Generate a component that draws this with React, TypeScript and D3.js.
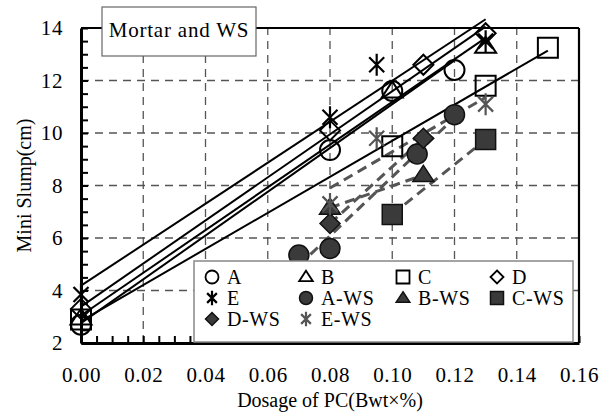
import React, { useEffect, useRef } from 'react';
import * as d3 from 'd3';

// series data (x = dosage of PC, y = mini slump cm)
const A_x = [0, 0.08, 0.10, 0.12];
const A_y = [2.7, 9.35, 11.6, 12.4];
const B_x = [0, 0.10, 0.13];
const B_y = [2.95, 11.6, 13.3];
const C_x = [0, 0.10, 0.13, 0.15];
const C_y = [2.9, 9.5, 11.8, 13.25];
const D_x = [0, 0.08, 0.11, 0.13];
const D_y = [3.3, 10.1, 12.6, 13.8];
const E_x = [0, 0.08, 0.095, 0.13];
const E_y = [3.85, 10.6, 12.6, 13.5];
const AWS_x = [0.07, 0.08, 0.108, 0.12];
const AWS_y = [5.35, 5.6, 9.2, 10.7];
const BWS_x = [0.08, 0.11];
const BWS_y = [7.15, 8.4];
const CWS_x = [0.10, 0.13];
const CWS_y = [6.9, 9.75];
const DWS_x = [0.08, 0.11];
const DWS_y = [6.55, 9.8];
const EWS_x = [0.08, 0.095, 0.13];
const EWS_y = [7.3, 9.8, 11.1];

const seriesNames = ['A', 'B', 'C', 'D', 'E', 'A-WS', 'B-WS', 'C-WS', 'D-WS', 'E-WS'];
const xTickLabels = [0, 0.02, 0.04, 0.06, 0.08, 0.10, 0.12, 0.14, 0.16];
const yTickLabels = [2, 4, 6, 8, 10, 12, 14];

const series = [
  { name: 'A', xs: A_x, ys: A_y, shape: 'circle', ws: false },
  { name: 'B', xs: B_x, ys: B_y, shape: 'triangle', ws: false },
  { name: 'C', xs: C_x, ys: C_y, shape: 'square', ws: false },
  { name: 'D', xs: D_x, ys: D_y, shape: 'diamond', ws: false },
  { name: 'E', xs: E_x, ys: E_y, shape: 'star', ws: false },
  { name: 'A-WS', xs: AWS_x, ys: AWS_y, shape: 'circle', ws: true },
  { name: 'B-WS', xs: BWS_x, ys: BWS_y, shape: 'triangle', ws: true },
  { name: 'C-WS', xs: CWS_x, ys: CWS_y, shape: 'square', ws: true },
  { name: 'D-WS', xs: DWS_x, ys: DWS_y, shape: 'diamond', ws: true },
  { name: 'E-WS', xs: EWS_x, ys: EWS_y, shape: 'star', ws: true },
];

const FONT = '"Liberation Serif", "Times New Roman", serif';

// marker path centred on 0,0, s = half size
const markerPath = (shape: string, s: number) => {
  const p = d3.path();
  if (shape === 'circle') {
    p.arc(0, 0, s, 0, Math.PI * 2);
  } else if (shape === 'triangle') {
    const h = s * 1.6;
    p.moveTo(0, -h * 0.6);
    p.lineTo(s * 1.05, h * 0.4);
    p.lineTo(-s * 1.05, h * 0.4);
    p.closePath();
  } else if (shape === 'square') {
    p.rect(-s, -s, 2 * s, 2 * s);
  } else if (shape === 'diamond') {
    p.moveTo(0, -s);
    p.lineTo(s, 0);
    p.lineTo(0, s);
    p.lineTo(-s, 0);
    p.closePath();
  } else {
    const d = s * 0.75;
    p.moveTo(-d, -d); p.lineTo(d, d);
    p.moveTo(d, -d); p.lineTo(-d, d);
    p.moveTo(0, -s * 1.1); p.lineTo(0, s * 1.1);
  }
  return p.toString();
};

const fit = (xs: number[], ys: number[]) => {
  const mx = d3.mean(xs) as number;
  const my = d3.mean(ys) as number;
  let sxy = 0, sxx = 0;
  xs.forEach((x, i) => { sxy += (x - mx) * (ys[i] - my); sxx += (x - mx) * (x - mx); });
  const b = sxy / sxx;
  return { a: my - b * mx, b };
};

const App = () => {
  const ref = useRef<SVGSVGElement>(null);

  useEffect(() => {
    const svg = d3.select(ref.current);
    svg.selectAll('*').remove();

    const margins = { top: 28, left: 81, right: 31, bottom: 72 };
    const W = 610, H = 415;
    const x = d3.scaleLinear().domain([0, 0.16]).range([margins.left, W - margins.right]);
    const y = d3.scaleLinear().domain([2, 14]).range([H - margins.bottom, margins.top]);

    const g = svg.append('g').style('font-family', FONT);

    // dashed grid
    g.selectAll('.vg').data(xTickLabels.slice(1, -1)).enter().append('line')
      .attr('x1', d => x(d)).attr('x2', d => x(d))
      .attr('y1', y(2)).attr('y2', y(14))
      .attr('stroke', '#555').attr('stroke-width', 1.3).attr('stroke-dasharray', '8,6');
    g.selectAll('.hg').data(yTickLabels.slice(1, -1)).enter().append('line')
      .attr('x1', x(0)).attr('x2', x(0.16))
      .attr('y1', d => y(d)).attr('y2', d => y(d))
      .attr('stroke', '#555').attr('stroke-width', 1.3).attr('stroke-dasharray', '8,6');

    // frame top/right
    g.append('line').attr('x1', x(0)).attr('x2', x(0.16)).attr('y1', y(14)).attr('y2', y(14))
      .attr('stroke', '#000').attr('stroke-width', 2.2);
    g.append('line').attr('x1', x(0.16)).attr('x2', x(0.16)).attr('y1', y(14)).attr('y2', y(2))
      .attr('stroke', '#000').attr('stroke-width', 2.2);

    // axes
    const yAxis = g.append('g').attr('transform', `translate(${x(0)},0)`)
      .call(d3.axisLeft(y).tickValues(yTickLabels).tickSize(0).tickPadding(18).tickFormat(d3.format('d')));
    const yMinor = g.append('g').attr('transform', `translate(${x(0)},0)`)
      .call(d3.axisRight(y).tickValues(d3.range(2, 14.01, 0.5)).tickSize(7).tickFormat(() => ''));
    const xAxis = g.append('g').attr('transform', `translate(0,${y(2)})`)
      .call(d3.axisBottom(x).tickValues(xTickLabels).tickSize(0).tickPadding(24).tickFormat(d3.format('.2f')));
    const xMinor = g.append('g').attr('transform', `translate(0,${y(2)})`)
      .call(d3.axisTop(x).tickValues(d3.range(0, 0.1601, 0.005)).tickSize(7).tickFormat(() => ''));

    [yMinor, xMinor].forEach(a => {
      a.select('.domain').remove();
      a.selectAll('line').attr('stroke', '#000').attr('stroke-width', 2);
    });
    [yAxis, xAxis].forEach(a => {
      a.attr('font-family', null).attr('font-size', null);
      a.select('.domain').attr('stroke', '#000').attr('stroke-width', 3);
      a.selectAll('text').style('font-family', FONT).style('font-size', '21px').attr('fill', '#000')
        .attr('letter-spacing', 0.6);
    });

    // fit lines
    series.forEach(s => {
      const f = fit(s.xs, s.ys);
      const x0 = d3.min(s.xs) as number, x1 = d3.max(s.xs) as number;
      g.append('line')
        .attr('x1', x(x0)).attr('y1', y(f.a + f.b * x0))
        .attr('x2', x(x1)).attr('y2', y(f.a + f.b * x1))
        .attr('stroke', s.ws ? '#555' : '#000')
        .attr('stroke-width', s.ws ? 3 : 2)
        .attr('stroke-dasharray', s.ws ? '10,6' : null);
    });

    const styleMarker = (sel: any, s: any) => {
      if (s.shape === 'star') {
        sel.attr('fill', 'none').attr('stroke', s.ws ? '#555' : '#000').attr('stroke-width', 2.2);
      } else if (s.ws) {
        sel.attr('fill', '#3a3a3a').attr('stroke', '#111').attr('stroke-width', 1.5);
      } else {
        sel.attr('fill', 'none').attr('stroke', '#000').attr('stroke-width', 2);
      }
    };

    // markers
    series.forEach(s => {
      const pts = s.xs.map((v, i) => [v, s.ys[i]]);
      const m = g.selectAll(null).data(pts).enter().append('path')
        .attr('transform', d => `translate(${x(d[0])},${y(d[1])})`)
        .attr('d', markerPath(s.shape, 10));
      styleMarker(m, s);
    });

    // title box
    const tb = g.append('g');
    tb.append('rect').attr('x', 102).attr('y', 7).attr('width', 154).attr('height', 49)
      .attr('fill', '#fff').attr('stroke', '#666').attr('stroke-width', 1.2);
    tb.append('text').attr('x', 179).attr('y', 37).attr('text-anchor', 'middle')
      .style('font-size', '21px').attr('letter-spacing', 0.8)
      .text('Mortar and WS');

    // legend
    const lg = g.append('g');
    lg.append('rect').attr('x', 194).attr('y', 261).attr('width', 379).attr('height', 81)
      .attr('fill', '#fff').attr('stroke', '#888').attr('stroke-width', 1.5);
    const colX = [212, 306, 403, 497];
    const rowY = [277, 298, 319];
    seriesNames.forEach((name, i) => {
      const s = series.find(d => d.name === name)!;
      const cx = colX[i % 4], cy = rowY[Math.floor(i / 4)];
      const m = lg.append('path').attr('transform', `translate(${cx},${cy})`)
        .attr('d', markerPath(s.shape, 6.5));
      styleMarker(m, s);
      if (!s.ws && s.shape !== 'star') m.attr('stroke-width', 1.8);
      lg.append('text').attr('x', cx + 15).attr('y', cy + 7)
        .style('font-size', '20px').attr('letter-spacing', 0.6)
        .text(name);
    });

    // axis titles
    g.append('text').attr('x', x(0.08)).attr('y', 407).attr('text-anchor', 'middle')
      .style('font-size', '20px')
      .text('Dosage of PC(Bwt×%)');
    g.append('text').attr('transform', `translate(31,${y(8)}) rotate(-90)`).attr('text-anchor', 'middle')
      .style('font-size', '20px')
      .text('Mini Slump(cm)');
  }, []);

  return (
    <div style={{ position: 'absolute', left: 0, top: 0 }}>
      <svg ref={ref} width={610} height={415} style={{ display: 'block', background: '#fff' }}></svg>
    </div>
  );
};

export default App;
